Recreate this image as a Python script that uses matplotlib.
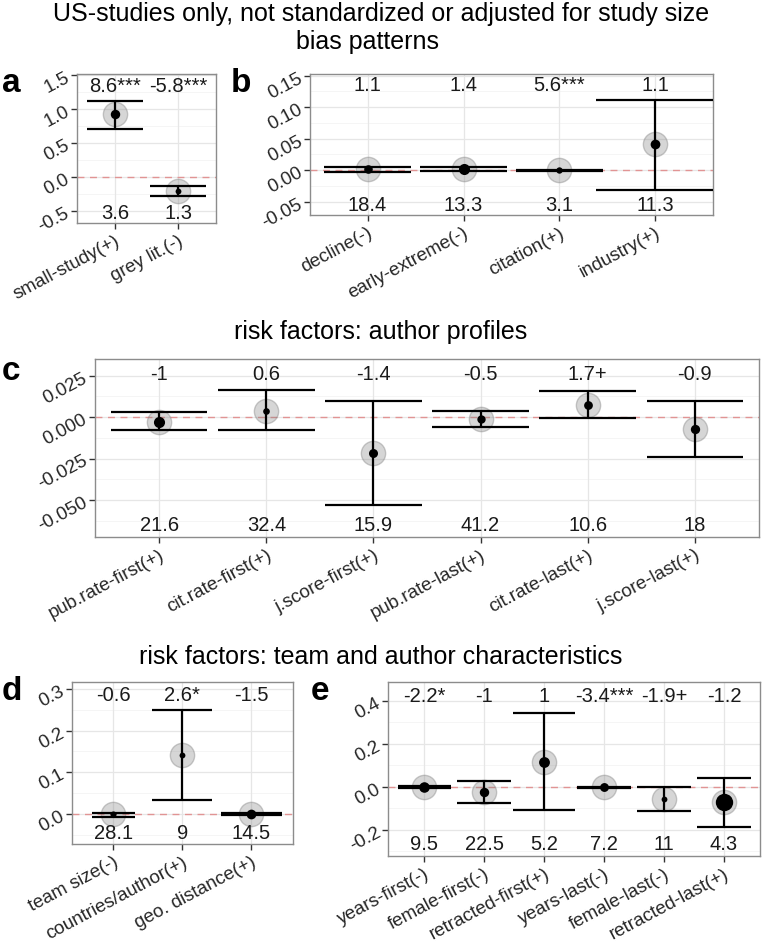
import matplotlib
matplotlib.use("Agg")
import matplotlib.pyplot as plt
from matplotlib.transforms import blended_transform_factory

plt.rcParams['font.family'] = ['Liberation Sans', 'DejaVu Sans']

# panel a: general biases
a_lab = ["small-study(+)", "grey lit.(-)"]
a_est = [0.92, -0.215]
a_lo = [0.705, -0.287]
a_hi = [1.12, -0.13]
a_top = ["8.6***", "-5.8***"]
a_bot = ["3.6", "1.3"]

# panel b
b_lab = ["decline(-)", "early-extreme(-)", "citation(+)", "industry(+)"]
b_est = [0.0015, 0.002, 0.0, 0.041]
b_lo = [-0.002, -0.001, -0.0005, -0.0315]
b_hi = [0.0055, 0.0055, 0.0005, 0.112]
b_top = ["1.1", "1.4", "5.6***", "1.1"]
b_bot = ["18.4", "13.3", "3.1", "11.3"]

# panel c: author profiles
c_lab = ["pub.rate-first(+)", "cit.rate-first(+)", "j.score-first(+)",
         "pub.rate-last(+)", "cit.rate-last(+)", "j.score-last(+)"]
c_est = [-0.0028, 0.0039, -0.0218, -0.0011, 0.0073, -0.0074]
c_lo = [-0.0078, -0.0079, -0.053, -0.006, -0.0007, -0.0242]
c_hi = [0.0029, 0.0162, 0.0097, 0.0039, 0.0156, 0.0095]
c_top = ["-1", "0.6", "-1.4", "-0.5", "1.7+", "-0.9"]
c_bot = ["21.6", "32.4", "15.9", "41.2", "10.6", "18"]

# panel d: team
d_lab = ["team size(-)", "countries/author(+)", "geo. distance(+)"]
d_est = [0.0, 0.141, 0.0]
d_lo = [-0.007, 0.033, -0.002]
d_hi = [0.003, 0.249, 0.002]
d_top = ["-0.6", "2.6*", "-1.5"]
d_bot = ["28.1", "9", "14.5"]

# panel e: author characteristics
e_lab = ["years-first(-)", "female-first(-)", "retracted-first(+)",
         "years-last(-)", "female-last(-)", "retracted-last(+)"]
e_est = [0.0, -0.025, 0.115, -0.003, -0.058, -0.073]
e_lo = [-0.004, -0.078, -0.11, -0.007, -0.115, -0.187]
e_hi = [0.002, 0.028, 0.343, 0.0, 0.0, 0.04]
e_top = ["-2.2*", "-1", "1", "-3.4***", "-1.9+", "-1.2"]
e_bot = ["9.5", "22.5", "5.2", "7.2", "11", "4.3"]

# styling per mark (dot size, errorbar width)
a_ms, a_w = [6.8, 4.2], [0.88, 0.89]
b_ms, b_w = [6.2, 8.0, 4.6, 7.0], [0.9, 0.9, 0.9, 1.24]
c_ms, c_w = [8.0, 4.8, 6.5, 6.0, 6.3, 6.7], [0.9, 0.9, 0.9, 0.9, 0.9, 0.9]
d_ms, d_w = [4.4, 4.2, 7.0], [0.62, 0.87, 0.88]
e_ms, e_w = [7.6, 6.8, 7.8, 6.4, 4.2, 12.5], [0.89, 0.9, 1.04, 0.9, 0.9, 0.91]

fig = plt.figure(figsize=(7.62, 9.42), dpi=100)
W, H = 762.0, 942.0
TXT = 14.5
TICK = 13.5
TITLE = 18


def box(l, t, r, b):
    return [l / W, 1 - b / H, (r - l) / W, (b - t) / H]


def panel(rect, lab, est, lo, hi, top, bot, ms, wid, ylim, yticks, fmt, letter, lx, ly):
    ax = fig.add_axes(rect)
    n = len(lab)
    xs = list(range(n))
    ax.set_xlim(-0.6, n - 1 + 0.6)
    ax.set_ylim(*ylim)
    ax.set_facecolor("white")
    # grid
    minor = [(yticks[i] + yticks[i + 1]) / 2 for i in range(len(yticks) - 1)]
    minor = [yticks[0] - (yticks[1] - yticks[0]) / 2] + minor
    for m in minor:
        ax.axhline(m, color="#f4f4f4", lw=0.6, zorder=0)
    for t in yticks:
        ax.axhline(t, color="#e6e6e6", lw=0.9, zorder=0)
    for x in xs:
        ax.axvline(x, color="#e6e6e6", lw=0.9, zorder=0)
    ax.axhline(0, color="#e08080", lw=1.0, ls=(0, (5, 4)), alpha=0.8, zorder=1)
    for i in xs:
        ax.plot(i, est[i], "o", ms=17.5, mfc=(0.5, 0.5, 0.5, 0.32),
                mec=(0.5, 0.5, 0.5, 0.4), mew=1.0, zorder=2)
        ax.vlines(i, lo[i], hi[i], color="black", lw=1.6, zorder=3)
        ax.hlines([lo[i], hi[i]], i - wid[i] / 2, i + wid[i] / 2, color="black", lw=1.6, zorder=3)
        ax.plot(i, est[i], "o", ms=ms[i], color="black", mew=0, zorder=4)
    tr = blended_transform_factory(ax.transData, ax.transAxes)
    for i in xs:
        ax.text(i, 0.915, top[i], transform=tr, ha="center", va="center", fontsize=TXT, color="#1a1a1a")
        ax.text(i, 0.065, bot[i], transform=tr, ha="center", va="center", fontsize=TXT, color="#1a1a1a")
    ax.set_xticks(xs)
    ax.set_xticklabels(lab, rotation=28, ha="right", rotation_mode="anchor", fontsize=TICK, color="#262626")
    ax.set_yticks(yticks)
    ax.set_yticklabels([fmt % t for t in yticks], rotation=28, ha="right", rotation_mode="anchor",
                       fontsize=TICK, color="#262626")
    ax.tick_params(length=4, width=1.0, color="#333333", pad=3)
    for s in ax.spines.values():
        s.set_color("#8c8c8c")
        s.set_linewidth(1.0)
    fig.text(lx / W, 1 - ly / H, letter, fontsize=24, fontweight="bold", ha="left", va="center")
    return ax


panel(box(77, 73.5, 216, 222.7), a_lab, a_est, a_lo, a_hi, a_top, a_bot, a_ms, a_w,
      (-0.675, 1.52), [-0.5, 0.0, 0.5, 1.0, 1.5], "%.1f", "a", 2, 84)
panel(box(310, 74, 713, 215), b_lab, b_est, b_lo, b_hi, b_top, b_bot, b_ms, b_w,
      (-0.071, 0.1527), [-0.05, 0.0, 0.05, 0.10, 0.15], "%.2f", "b", 231, 84)
panel(box(95, 359.3, 759, 537.3), c_lab, c_est, c_lo, c_hi, c_top, c_bot, c_ms, c_w,
      (-0.0725, 0.0349), [-0.05, -0.025, 0.0, 0.025], "%.3f", "c", 2, 371)
panel(box(71.7, 681.7, 292.7, 844), d_lab, d_est, d_lo, d_hi, d_top, d_bot, d_ms, d_w,
      (-0.072, 0.3175), [0.0, 0.1, 0.2, 0.3], "%.1f", "d", 2, 692)
panel(box(388.3, 681.7, 760, 856), e_lab, e_est, e_lo, e_hi, e_top, e_bot, e_ms, e_w,
      (-0.323, 0.49), [-0.2, 0.0, 0.2, 0.4], "%.1f", "e", 311, 692)

fig.text(0.5, 1 - 14 / H, "US-studies only, not standardized or adjusted for study size",
         ha="center", va="center", fontsize=TITLE)
fig.text(368 / W, 1 - 42 / H, "bias patterns", ha="center", va="center", fontsize=TITLE)
fig.text(0.5, 1 - 332 / H, "risk factors: author profiles", ha="center", va="center", fontsize=TITLE)
fig.text(0.5, 1 - 657 / H, "risk factors: team and author characteristics",
         ha="center", va="center", fontsize=TITLE)

fig.savefig("out.png", dpi=100)
